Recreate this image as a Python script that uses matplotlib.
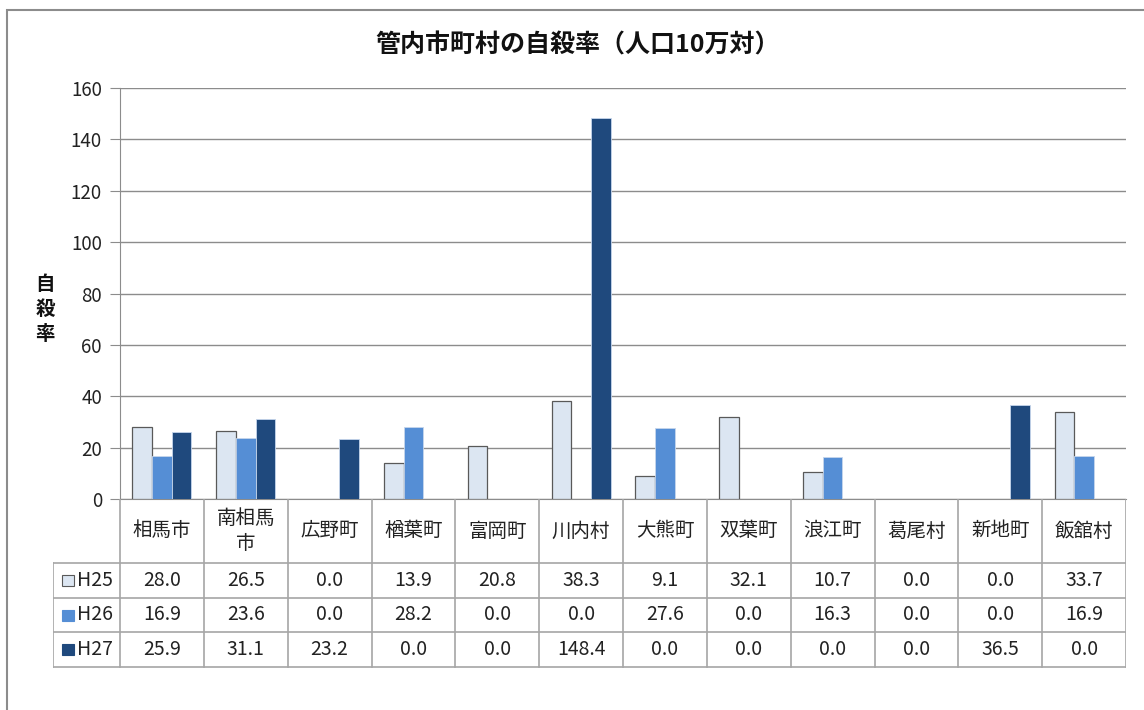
import numpy as np
import matplotlib
matplotlib.use("Agg")
import matplotlib.pyplot as plt
from matplotlib.patches import Rectangle

plt.rcParams['font.family'] = ['Noto Sans CJK JP', 'DejaVu Sans']

categories = ["相馬市", "南相馬\n市", "広野町", "楢葉町", "富岡町", "川内村",
              "大熊町", "双葉町", "浪江町", "葛尾村", "新地町", "飯舘村"]
series_names = ["H25", "H26", "H27"]
h25 = [28.0, 26.5, 0.0, 13.9, 20.8, 38.3, 9.1, 32.1, 10.7, 0.0, 0.0, 33.7]
h26 = [16.9, 23.6, 0.0, 28.2, 0.0, 0.0, 27.6, 0.0, 16.3, 0.0, 0.0, 16.9]
h27 = [25.9, 31.1, 23.2, 0.0, 0.0, 148.4, 0.0, 0.0, 0.0, 0.0, 36.5, 0.0]
yticks = [0, 20, 40, 60, 80, 100, 120, 140, 160]

colors = ["#DCE6F2", "#558ED5", "#1F497D"]
edges = ["#595959", "#C6D6EC", "#C6D6EC"]

W, H = 1144, 710
fig = plt.figure(figsize=(W / 100, H / 100), dpi=100)

# outer chart frame (cropped on right/bottom like the screenshot)
fig.patches.append(Rectangle((7 / W, -0.05), 1.2, (H - 10) / H + 0.05,
                             transform=fig.transFigure, fill=False,
                             edgecolor="#8c8c8c", linewidth=1.5))


def px(x0, y0, x1, y1):
    return [x0 / W, 1 - y1 / H, (x1 - x0) / W, (y1 - y0) / H]


ax = fig.add_axes(px(120, 88, 1126, 499))
n = len(categories)
x = np.arange(n)
bw = 0.234
for i, vals in enumerate([h25, h26, h27]):
    vals = np.array(vals)
    m = vals > 0
    ax.bar(x[m] + (i - 1) * bw, vals[m], width=bw, color=colors[i],
           edgecolor=edges[i], linewidth=0.9 if i == 0 else 0.6, zorder=3)

ax.set_xlim(-0.5, n - 0.5)
ax.set_ylim(0, 160)
ax.set_yticks(yticks)
ax.set_yticklabels([str(t) for t in yticks], fontsize=13.5, color="#222222")
ax.yaxis.grid(True, color="#8c8c8c", linewidth=1.0, zorder=0)
ax.set_xticks([])
for s in ["top", "right"]:
    ax.spines[s].set_visible(False)
ax.spines["left"].set_color("#8c8c8c")
ax.spines["bottom"].set_color("#8c8c8c")
ax.tick_params(axis="y", length=7, color="#8c8c8c", pad=6)

fig.text(578 / W, 1 - 45 / H, "管内市町村の自殺率（人口10万対）", ha="center",
         va="center", fontsize=18, fontweight="bold", color="#111111")
for k, ch in enumerate("自殺率"):
    fig.text(45 / W, 1 - (285 + k * 24.5) / H, ch, ha="center", va="center",
             fontsize=14, fontweight="bold", color="#111111")

# data table below the plot
cw = 1006 / n
left_px = 53
tab = fig.add_axes(px(left_px, 499, 1126, 668))
tab.set_xlim(-0.5 - (120 - left_px) / cw, n - 0.5)
tab.set_ylim(668, 499)
tab.axis("off")
lc = "#a6a6a6"
row_y = [499, 563, 598, 632, 667]
xl = -0.5 - (120 - left_px) / cw
# horizontal lines
tab.plot([-0.5, n - 0.5], [row_y[0], row_y[0]], color="#8c8c8c", lw=1.2)
for yy in row_y[1:]:
    tab.plot([xl, n - 0.5], [yy, yy], color=lc, lw=1.2)
# vertical lines
for j in range(n + 1):
    tab.plot([j - 0.5, j - 0.5], [row_y[0], row_y[-1]], color=lc, lw=1.2)
tab.plot([xl, xl], [row_y[1], row_y[-1]], color=lc, lw=1.2)
# category labels
for j, c in enumerate(categories):
    tab.text(j, (row_y[0] + row_y[1]) / 2, c, ha="center", va="center",
             fontsize=14, color="#222222", linespacing=1.2)
# rows
for r, (name, vals) in enumerate(zip(series_names, [h25, h26, h27])):
    yc = (row_y[r + 1] + row_y[r + 2]) / 2
    kx = xl + 9 / cw
    tab.add_patch(Rectangle((kx, yc - 5.5), 12 / cw, 11, facecolor=colors[r],
                            edgecolor="#595959" if r == 0 else colors[r],
                            lw=0.8))
    tab.text(xl + 24 / cw, yc, name, ha="left", va="center", fontsize=14,
             color="#222222")
    for j, v in enumerate(vals):
        tab.text(j, yc, f"{v:.1f}", ha="center", va="center", fontsize=14,
                 color="#222222")

fig.savefig("out.png", dpi=100)
